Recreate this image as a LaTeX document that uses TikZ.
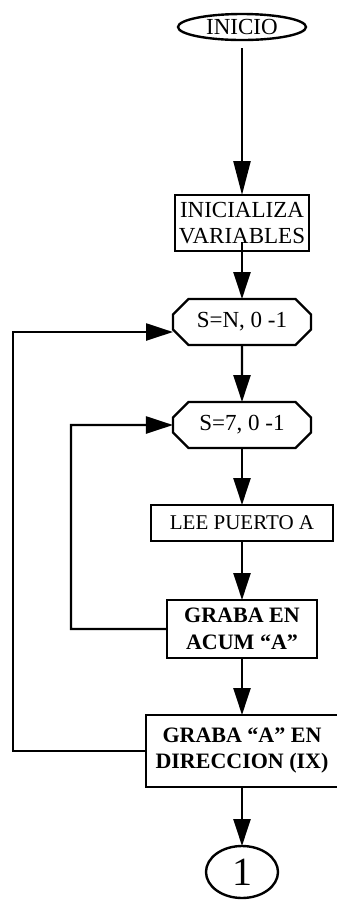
\documentclass[tikz,border=0pt]{standalone}
\usepackage{fontspec}
\setmainfont{Liberation Serif}
\usetikzlibrary{positioning,arrows.meta,shapes.geometric,shapes.misc}
\tikzset{
startnode/.style={
draw,
ellipse,
line width=1.2pt,
inner sep=0pt,
outer sep=0pt,
minimum width=64pt,
minimum height=13pt,
font=\fontsize{11.5}{13}\selectfont
},
proc/.style={
draw,
line width=1.2pt,
inner sep=0pt,
outer sep=0pt,
align=center,
font=\fontsize{11.5}{13}\selectfont
},
loopnode/.style={
draw,
chamfered rectangle,
chamfered rectangle xsep=6.5pt,
line width=1.2pt,
inner sep=0pt,
outer sep=0pt,
minimum width=69pt,
minimum height=23pt,
font=\fontsize{11.5}{13}\selectfont
},
connector/.style={
draw,
ellipse,
line width=1.2pt,
inner sep=0pt,
outer sep=0pt,
minimum width=36pt,
minimum height=26pt,
font=\fontsize{20}{20}\selectfont
},
arrow/.style={
-{Triangle[length=13.5pt,width=8.5pt]},
line width=1.2pt
}
}
\begin{document}
\begin{tikzpicture}[x=0.5pt,y=-0.5pt,node distance=28.5pt]
\useasboundingbox (0,0) rectangle (337,902);
\node[startnode] (inicio) at (242,27) {INICIO};
\node[proc,minimum width=67pt,minimum height=28pt,below=77.5pt of inicio] (init) {INICIALIZA\\VARIABLES};
\node[loopnode,below=24pt of init] (sn) {S=N, 0 -1};
\node[loopnode,below=of sn] (s7) {S=7, 0 -1};
\node[proc,font=\fontsize{10.5}{12}\selectfont,minimum width=91pt,minimum height=18pt,below=of s7] (lee) {LEE PUERTO A};
\node[proc,font=\fontsize{11}{13.5}\selectfont\bfseries,minimum width=75pt,minimum height=29pt,below=29.5pt of lee] (acum) {GRABA EN\\ACUM “A”};
\node[proc,font=\fontsize{11}{13}\selectfont\bfseries,minimum width=96pt,minimum height=36pt,below=of acum] (dir) {GRABA “A” EN\\DIRECCION (IX)};
\node[connector,below=29.5pt of dir] (uno) {1};

\coordinate (outer) at (13,332);
\coordinate (inner) at (71,0);

\draw[arrow,-{Triangle[length=17pt,width=8.5pt]},shorten <=4pt] (inicio) -- (init);
\draw[arrow] ([yshift=4.5pt]init.south) -- (sn);
\foreach \x/\y in {sn/s7,s7/lee,lee/acum,acum/dir,dir/uno}
\draw[arrow](\x)--(\y);

\draw[arrow] (dir.west) -| (outer) -- (outer -| sn.west);
\draw[arrow] (acum.west) -| (inner |- s7) -- (s7);
\end{tikzpicture}
\end{document}
